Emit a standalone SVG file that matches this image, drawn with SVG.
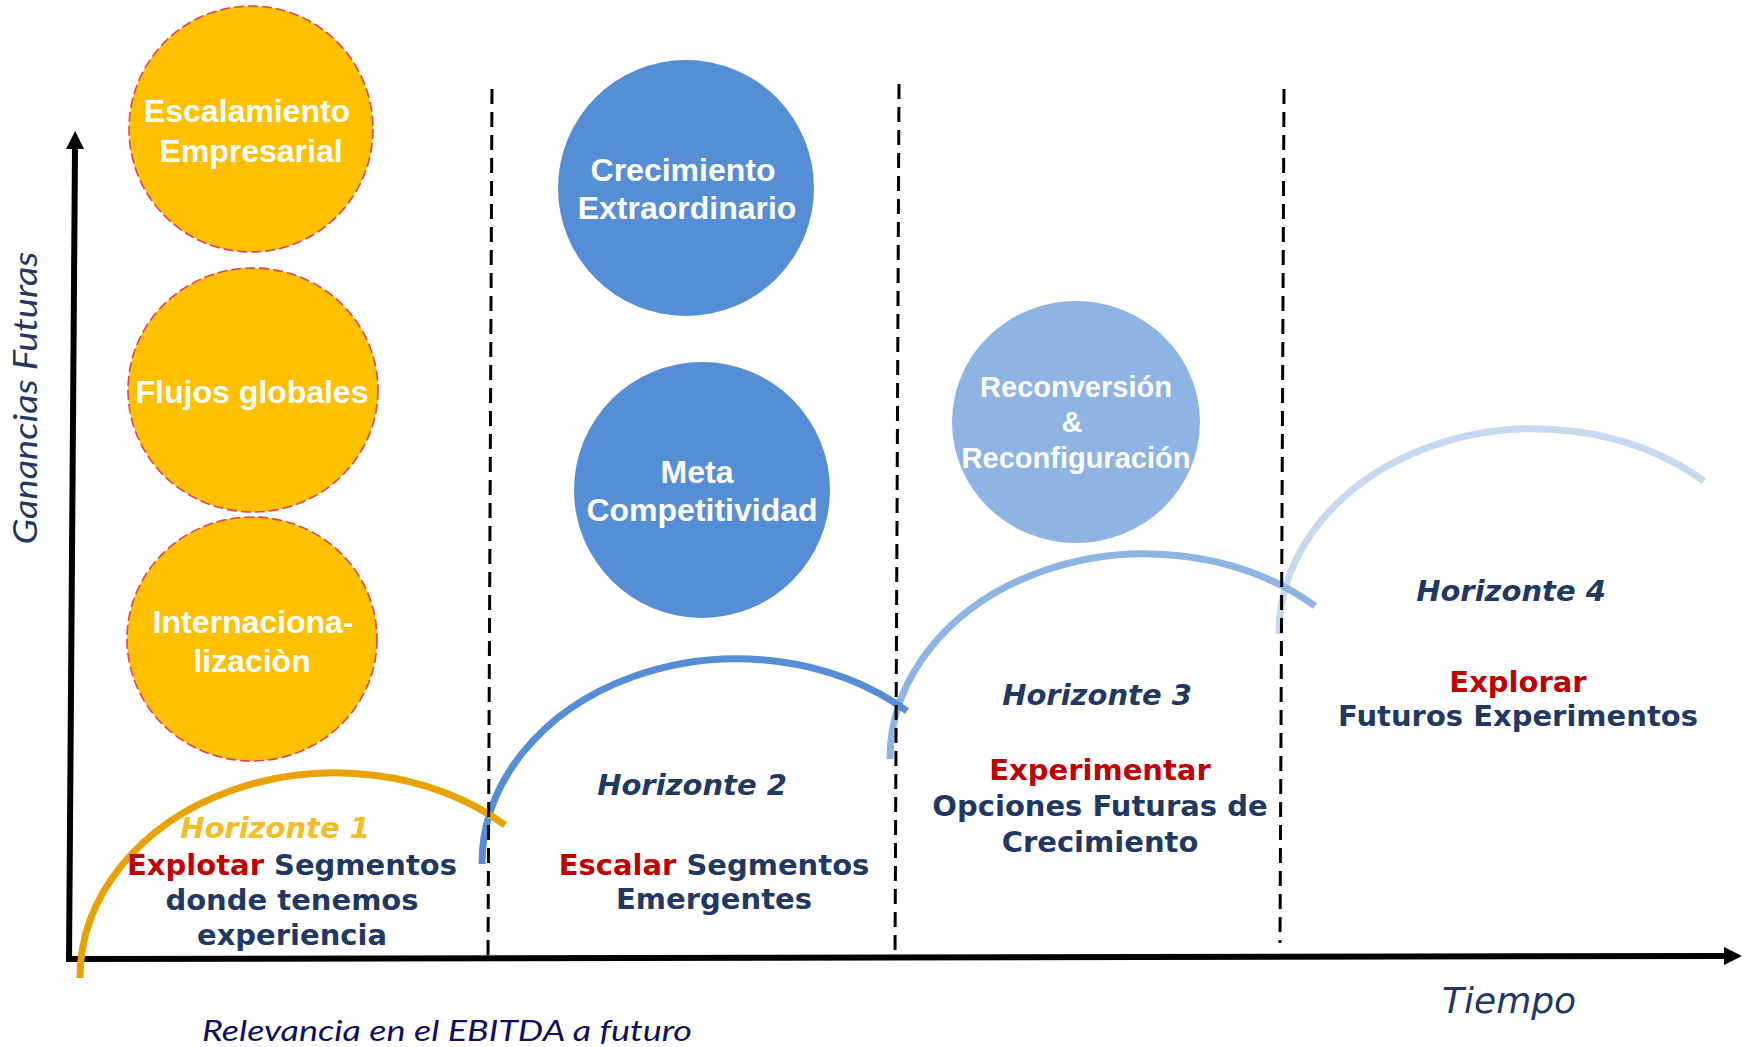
<svg xmlns="http://www.w3.org/2000/svg" width="1750" height="1047" viewBox="0 0 1750 1047">
<style>
.yc{fill:#FFC000;stroke:#E0405A;stroke-width:1.6;stroke-dasharray:10 4}
.ctxt{font-family:"Liberation Sans",Arial,sans-serif;font-weight:bold;fill:#FFFFFF;text-anchor:middle}
.h{font-family:"DejaVu Sans",Verdana,sans-serif;font-weight:bold;font-size:29px;text-anchor:middle;fill:#1F3864}
.hi{font-style:italic}
.red{fill:#C00000}
.arc{fill:none;stroke-width:7;stroke-linecap:butt}
.dash{stroke:#000;stroke-width:3;stroke-dasharray:15 8;fill:none}
.axis{stroke:#000;stroke-width:6;fill:none}
</style>
<defs>
<marker id="arr" viewBox="0 0 18 18" refX="0" refY="9" markerWidth="18" markerHeight="18" markerUnits="userSpaceOnUse" orient="auto">
<path d="M0,0 L18,9 L0,18 z" fill="#000"/>
</marker>
</defs>
<rect width="1750" height="1047" fill="#FFFFFF"/>

<g id="connectors">
<path class="axis" d="M69,961 L75,149" marker-end="url(#arr)"/>
<path class="axis" d="M66,959 L1724,956" marker-end="url(#arr)"/>
<path class="arc" stroke="#C6D9F1" d="M1279,634 A255,205 0 0 1 1704,481"/>
<path class="arc" stroke="#8EB4E3" d="M890,759 A255,205 0 0 1 1315,606"/>
<path class="arc" stroke="#558ED5" d="M482,864 A255,205 0 0 1 907,711"/>
<path class="arc" stroke="#E8A202" d="M80,978 A255,205 0 0 1 505,825"/>
<path class="dash" d="M492,89 L488,956"/>
<path class="dash" d="M899,84 L895,960"/>
<path class="dash" d="M1284,89 L1280,943"/>
</g>

<g id="escalamiento">
<ellipse class="yc" cx="251" cy="129" rx="122" ry="123"/>
<text class="ctxt" font-size="32"><tspan x="247" y="122">Escalamiento</tspan><tspan x="251" y="162">Empresarial</tspan></text>
</g>
<g id="flujos">
<ellipse class="yc" cx="253" cy="390" rx="125" ry="122"/>
<text class="ctxt" font-size="32" x="252" y="403">Flujos globales</text>
</g>
<g id="internacionalizacion">
<ellipse class="yc" cx="252" cy="639" rx="125" ry="122"/>
<text class="ctxt" font-size="32"><tspan x="253" y="633">Internaciona-</tspan><tspan x="252" y="672">lizaciòn</tspan></text>
</g>
<g id="crecimiento">
<circle cx="686" cy="188" r="128" fill="#558ED5"/>
<text class="ctxt" font-size="32"><tspan x="683" y="181">Crecimiento</tspan><tspan x="687" y="219">Extraordinario</tspan></text>
</g>
<g id="meta">
<circle cx="702" cy="490" r="128" fill="#558ED5"/>
<text class="ctxt" font-size="32"><tspan x="697" y="483">Meta</tspan><tspan x="702" y="521">Competitividad</tspan></text>
</g>
<g id="reconversion">
<ellipse cx="1076" cy="422" rx="124" ry="121" fill="#8EB4E3"/>
<text class="ctxt" font-size="29"><tspan x="1076" y="397">Reconversión</tspan><tspan x="1072" y="432">&amp;</tspan><tspan x="1076" y="468">Reconfiguración</tspan></text>
</g>

<g id="horizonte1">
<text class="h hi" x="275" y="838" style="fill:#F6BC25">Horizonte 1</text>
<text class="h"><tspan x="292" y="875"><tspan class="red">Explotar</tspan> Segmentos</tspan><tspan x="292" y="910">donde tenemos</tspan><tspan x="292" y="945">experiencia</tspan></text>
</g>
<g id="horizonte2">
<text class="h hi" x="692" y="795">Horizonte 2</text>
<text class="h"><tspan x="714" y="875"><tspan class="red">Escalar</tspan> Segmentos</tspan><tspan x="714" y="909">Emergentes</tspan></text>
</g>
<g id="horizonte3">
<text class="h hi" x="1097" y="705">Horizonte 3</text>
<text class="h"><tspan class="red" x="1100" y="780">Experimentar</tspan><tspan x="1100" y="816">Opciones Futuras de</tspan><tspan x="1100" y="852">Crecimiento</tspan></text>
</g>
<g id="horizonte4">
<text class="h hi" x="1511" y="601">Horizonte 4</text>
<text class="h"><tspan class="red" x="1518" y="692">Explorar</tspan><tspan x="1518" y="726">Futuros Experimentos</tspan></text>
</g>

<g id="labels">
<text transform="translate(37,398) rotate(-90)" x="0" y="0" text-anchor="middle" font-family="Lato,'Open Sans',sans-serif" font-style="italic" font-size="32" fill="#1F3864" textLength="293" lengthAdjust="spacingAndGlyphs">Ganancias Futuras</text>
<text x="202" y="1041" font-family="Lato,'Open Sans',sans-serif" font-style="italic" font-size="29" fill="#10105E" textLength="490" lengthAdjust="spacingAndGlyphs">Relevancia en el EBITDA a futuro</text>
<text x="1442" y="1013" font-family="'DejaVu Sans',Verdana,sans-serif" font-style="italic" font-size="36" fill="#1F3864">Tiempo</text>
</g>
</svg>
